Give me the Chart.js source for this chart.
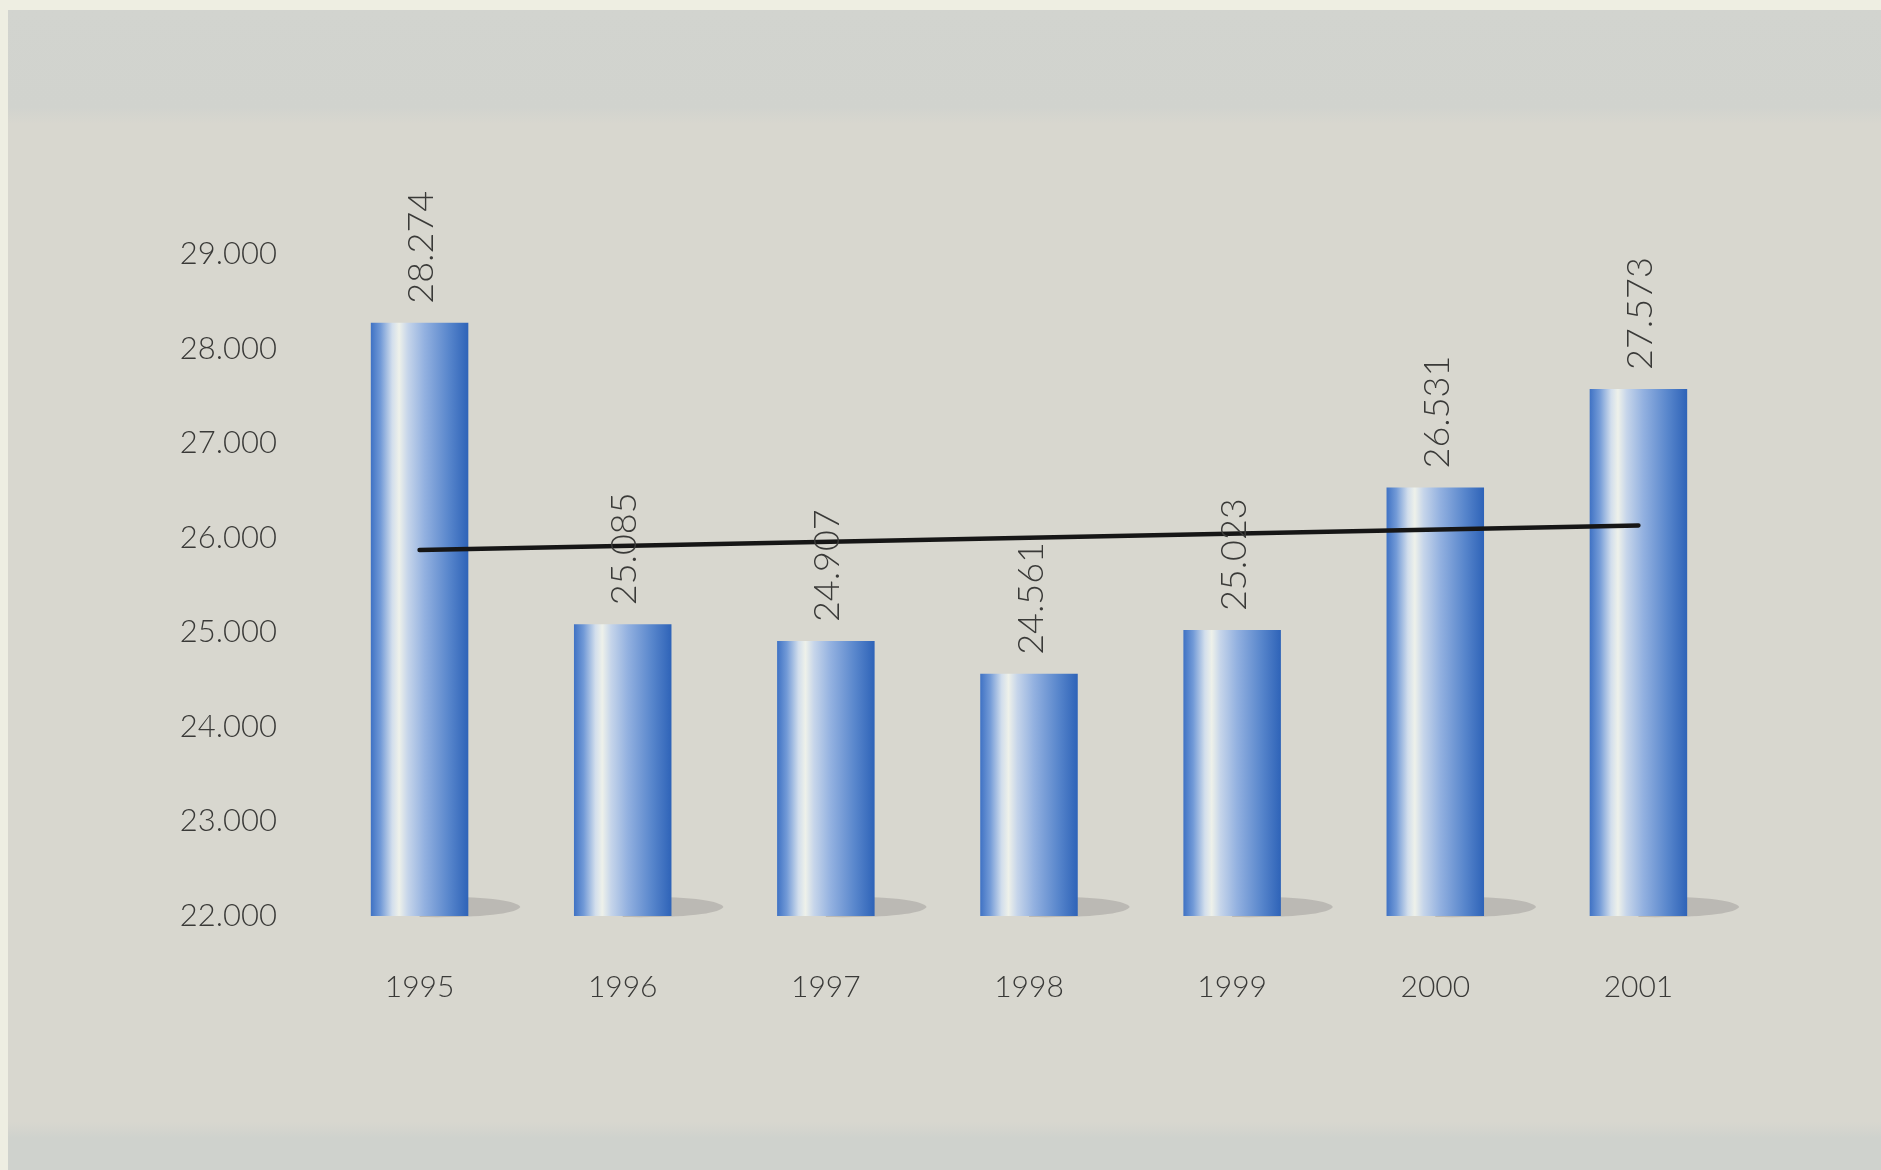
<!DOCTYPE html>
<html>
<head>
<meta charset="utf-8">
<script src="https://cdn.jsdelivr.net/npm/chart.js@4.4.1/dist/chart.umd.min.js"></script>
<style>
  html, body { margin: 0; padding: 0; background: #d8d7cf; }
  #wrap { position: relative; width: 1881px; height: 1170px; overflow: hidden; }
  canvas { display: block; }
</style>
</head>
<body>
<div id="wrap"><canvas id="c" width="1881" height="1170"></canvas></div>
<script>
const years = ['1995', '1996', '1997', '1998', '1999', '2000', '2001'];
const values = [28274, 25085, 24907, 24561, 25023, 26531, 27573];
const valueLabels = ['28.274', '25.085', '24.907', '24.561', '25.023', '26.531', '27.573'];
const trendEnds = [25870, null, null, null, null, null, 26130];
const yTicks = [22000, 23000, 24000, 25000, 26000, 27000, 28000, 29000];
const yTickLabels = ['22.000', '23.000', '24.000', '25.000', '26.000', '27.000', '28.000', '29.000'];

const FONT = 'Lato, "Open Sans", "DejaVu Sans", sans-serif';
const TEXT = '#3a3a38';
const CAT_PCT = 0.96, BAR_PCT = 0.5;

function barGradient(ctx) {
  const chart = ctx.chart;
  const xs = chart.scales && chart.scales.x;
  if (!xs || ctx.dataIndex === undefined || !chart.chartArea) return '#4a78c4';
  const cx = xs.getPixelForValue(ctx.dataIndex);
  const w = (xs.width / years.length) * CAT_PCT * BAR_PCT;
  const g = chart.ctx.createLinearGradient(cx - w / 2, 0, cx + w / 2, 0);
  g.addColorStop(0.00, '#3f72c4');
  g.addColorStop(0.10, '#729ad7');
  g.addColorStop(0.22, '#d2deec');
  g.addColorStop(0.29, '#eef1ea');
  g.addColorStop(0.38, '#c6d5ea');
  g.addColorStop(0.55, '#93b1e0');
  g.addColorStop(0.80, '#5886cc');
  g.addColorStop(1.00, '#2e63b8');
  return g;
}

const bgPlugin = {
  id: 'bg',
  beforeDraw(chart) {
    const c = chart.ctx, W = chart.width, H = chart.height;
    c.save();
    c.fillStyle = '#d8d7cf';
    c.fillRect(0, 0, W, H);
    const tg = c.createLinearGradient(0, 10, 0, 124);
    tg.addColorStop(0, '#d2d4cf');
    tg.addColorStop(0.85, '#d1d3ce');
    tg.addColorStop(1, '#d8d7cf');
    c.fillStyle = tg;
    c.fillRect(0, 10, W, 114);
    const bg = c.createLinearGradient(0, 1122, 0, 1138);
    bg.addColorStop(0, '#d8d7cf');
    bg.addColorStop(1, '#cfd2cd');
    c.fillStyle = bg;
    c.fillRect(0, 1122, W, H - 1122);
    c.fillStyle = '#eeeee2';
    c.fillRect(0, 0, W, 10);
    c.fillRect(0, 0, 8, H);
    c.restore();
  }
};

const shadowPlugin = {
  id: 'barShadows',
  beforeDatasetsDraw(chart) {
    const meta = chart.getDatasetMeta(0);
    const c = chart.ctx;
    c.save();
    c.fillStyle = 'rgba(180,178,172,0.8)';
    meta.data.forEach(el => {
      const p = el.getProps(['x', 'base', 'width'], true);
      const right = p.x + p.width / 2;
      const cy = p.base - 9;
      c.beginPath();
      c.moveTo(p.x, cy - 10);
      c.bezierCurveTo(right + 20, cy - 11, right + 48, cy - 6, right + 52, cy);
      c.bezierCurveTo(right + 48, cy + 6, right + 20, cy + 11, p.x, cy + 10);
      c.closePath();
      c.fill();
    });
    c.restore();
  }
};

const labelPlugin = {
  id: 'valueLabels',
  afterDatasetsDraw(chart) {
    const meta = chart.getDatasetMeta(0);
    const c = chart.ctx;
    c.save();
    c.fillStyle = TEXT;
    c.font = '300 36px ' + FONT;
    c.textAlign = 'left';
    c.textBaseline = 'middle';
    meta.data.forEach((el, i) => {
      const p = el.getProps(['x', 'y'], true);
      c.save();
      c.translate(p.x + 2, p.y - 19);
      c.rotate(-Math.PI / 2);
      c.fillText(valueLabels[i], 0, 0);
      c.restore();
    });
    c.restore();
  }
};

new Chart(document.getElementById('c'), {
  data: {
    labels: years,
    datasets: [
      {
        type: 'bar',
        data: values,
        backgroundColor: barGradient,
        borderWidth: 0,
        categoryPercentage: CAT_PCT,
        barPercentage: BAR_PCT,
        base: 22000,
        order: 2
      },
      {
        type: 'line',
        data: trendEnds,
        spanGaps: true,
        borderColor: '#161616',
        borderWidth: 4.5,
        borderCapStyle: 'round',
        pointRadius: 0,
        fill: false,
        tension: 0,
        order: 1
      }
    ]
  },
  options: {
    responsive: false,
    animation: false,
    devicePixelRatio: 1,
    layout: { padding: { left: 0, right: 141, top: 254, bottom: 0 } },
    plugins: { legend: { display: false }, tooltip: { enabled: false } },
    scales: {
      x: {
        type: 'category',
        offset: true,
        grid: { display: false },
        border: { display: false },
        ticks: { color: TEXT, font: { family: FONT, size: 30, weight: '300' }, padding: 45, maxRotation: 0 },
        afterFit(s) { s.height = 254; }
      },
      y: {
        type: 'linear',
        min: 22000,
        max: 29000,
        grid: { display: false },
        border: { display: false },
        afterBuildTicks(s) { s.ticks = yTicks.map(v => ({ value: v })); },
        ticks: {
          color: TEXT,
          font: { family: FONT, size: 31, weight: '300' },
          padding: 33,
          callback(v) { const i = yTicks.indexOf(v); return i >= 0 ? yTickLabels[i] : ''; }
        },
        afterFit(s) { s.width = 318; }
      }
    }
  },
  plugins: [bgPlugin, shadowPlugin, labelPlugin]
});
</script>
</body>
</html>
